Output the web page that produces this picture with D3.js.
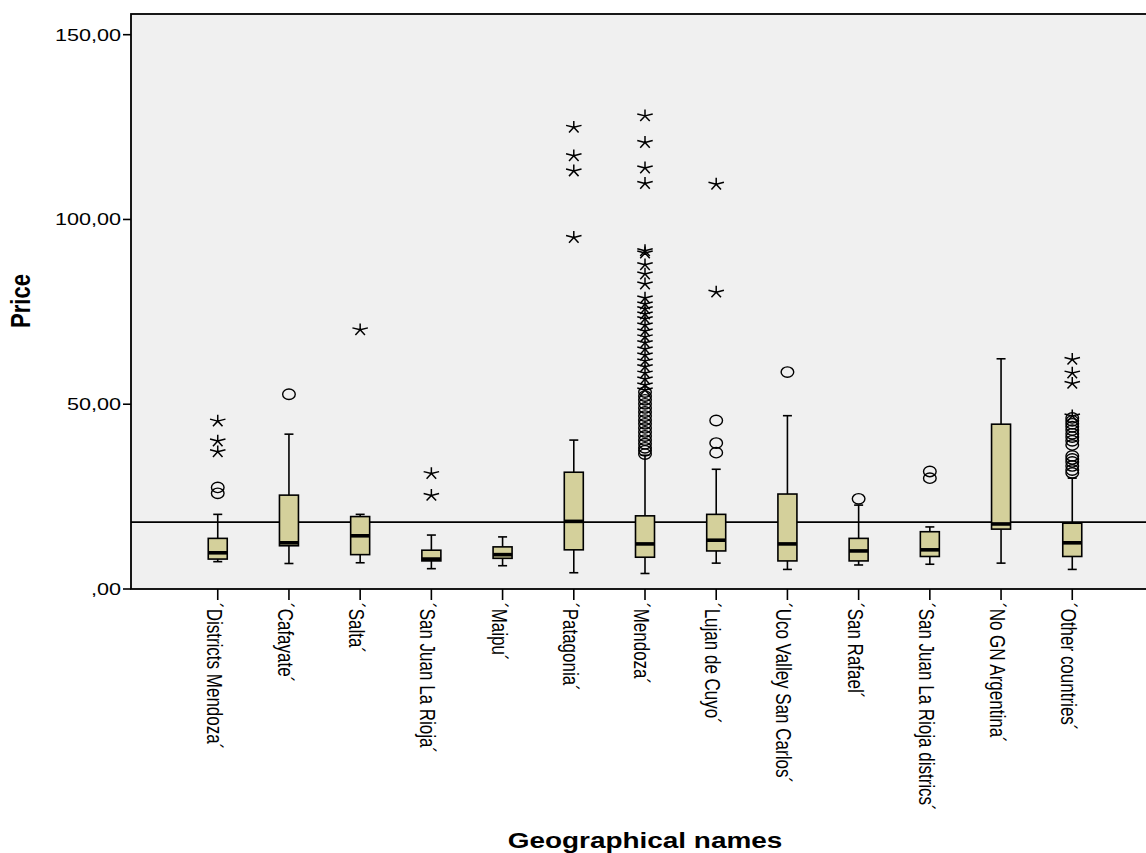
<!DOCTYPE html>
<html>
<head>
<meta charset="utf-8">
<script src="https://cdn.jsdelivr.net/npm/d3@7"></script>
<style>
  html, body { margin: 0; padding: 0; background: #ffffff; }
  svg { display: block; }
  text { font-family: "Liberation Sans", Arial, sans-serif; fill: #000; }
</style>
</head>
<body>
<svg id="chart" width="1146" height="853"></svg>
<script>
// Price by geographical name (box plots)
const categories = [
  "´Districts Mendoza´", "´Cafayate´", "´Salta´", "´San Juan La Rioja´", "´Maipu´",
  "´Patagonia´", "´Mendoza´", "´Lujan de Cuyo´", "´Uco Valley San Carlos´", "´San Rafael´",
  "´San Juan La Rioja districs´", "´No GN Argentina´", "´Other countries´"
];
const whiskerLow  = [7.4, 6.9, 7.1, 5.5, 6.3, 4.4, 4.2, 7.0, 5.3, 6.5, 6.7, 7.0, 5.3];
const q1          = [8.1, 11.7, 9.3, 7.6, 8.3, 10.6, 8.6, 10.3, 7.6, 7.6, 8.8, 16.2, 8.8];
const medians     = [9.8, 12.5, 14.4, 8.1, 9.3, 18.3, 12.2, 13.2, 12.2, 10.3, 10.6, 17.6, 12.5];
const q3          = [13.7, 25.4, 19.6, 10.5, 11.4, 31.6, 19.8, 20.2, 25.7, 13.7, 15.5, 44.6, 17.8];
const whiskerHigh = [20.2, 41.9, 20.2, 14.6, 14.1, 40.3, 36.2, 32.4, 46.9, 22.7, 16.8, 62.3, 30.0];
// mild outliers (circles)
const outliers = [
  [25.9, 27.5],
  [52.7],
  [],
  [],
  [],
  [],
  [36.5, 37.4, 38.2, 39.3, 40.3, 41.4, 42.5, 43.6, 44.7, 45.7, 46.8, 47.9, 49.0, 50.1, 51.2, 52.2, 53.3],
  [36.9, 39.5, 45.6],
  [58.7],
  [24.4],
  [30.0, 31.8],
  [],
  [31.4, 32.2, 33.3, 34.4, 35.2, 36.0, 39.0, 40.1, 41.1, 42.0, 43.0, 43.9, 44.7, 45.5, 46.3]
];
// extreme values (stars)
const extremes = [
  [37.4, 40.3, 45.7],
  [],
  [70.4],
  [25.6, 31.5],
  [],
  [95.4, 113.4, 117.5, 125.2],
  [54.1, 55.5, 57.1, 58.7, 60.4, 62.0, 63.6, 65.2, 66.9, 68.5, 70.1, 71.7, 73.4, 74.7, 76.1,
   77.4, 79.0, 82.8, 85.5, 88.0, 91.2, 91.8, 110.0, 114.2, 121.1, 128.3],
  [80.6, 109.8],
  [],
  [],
  [],
  [],
  [47.1, 55.9, 58.7, 62.4]
];
const referenceValue = 18.1;
const yTicks = [0, 50, 100, 150];
const yTitle = "Price";
const xTitle = "Geographical names";

const svg = d3.select("#chart");
const plotL = 131, plotR = 1157, plotT = 14, plotB = 589;
const sx = 1.27; // horizontal stretch applied to text and point glyphs

const x = d3.scalePoint().domain(categories).range([plotL + 2, plotR]).padding(1.19);
const y = d3.scaleLinear().domain([0, 155.6]).range([plotB, plotT]);

const fmt = v => {
  const s = v.toFixed(2).replace(".", ",");
  return s.startsWith("0,") ? s.slice(1) : s;
};

// plot background
svg.append("rect")
  .attr("x", plotL).attr("y", plotT)
  .attr("width", plotR - plotL).attr("height", plotB - plotT)
  .attr("fill", "#f0f0f0");

// reference line
svg.append("line")
  .attr("x1", plotL).attr("x2", plotR)
  .attr("y1", y(referenceValue)).attr("y2", y(referenceValue))
  .attr("stroke", "#000").attr("stroke-width", 1.6);

const boxHalf = 9.5, capHalf = 4.5;
const g = svg.selectAll("g.box").data(categories).join("g").attr("class", "box");

// whiskers
g.append("line")
  .attr("x1", d => x(d)).attr("x2", d => x(d))
  .attr("y1", (d, i) => y(whiskerLow[i])).attr("y2", (d, i) => y(q1[i]))
  .attr("stroke", "#000").attr("stroke-width", 1.6);
g.append("line")
  .attr("x1", d => x(d)).attr("x2", d => x(d))
  .attr("y1", (d, i) => y(q3[i])).attr("y2", (d, i) => y(whiskerHigh[i]))
  .attr("stroke", "#000").attr("stroke-width", 1.6);
// whisker caps
[whiskerLow, whiskerHigh].forEach(arr => {
  g.append("line")
    .attr("x1", d => x(d) - capHalf).attr("x2", d => x(d) + capHalf)
    .attr("y1", (d, i) => y(arr[i])).attr("y2", (d, i) => y(arr[i]))
    .attr("stroke", "#000").attr("stroke-width", 1.6);
});
// boxes
g.append("rect")
  .attr("x", d => x(d) - boxHalf)
  .attr("y", (d, i) => y(q3[i]))
  .attr("width", boxHalf * 2)
  .attr("height", (d, i) => y(q1[i]) - y(q3[i]))
  .attr("fill", "#d4d09b")
  .attr("stroke", "#000").attr("stroke-width", 1.6);
// medians
g.append("line")
  .attr("x1", d => x(d) - boxHalf).attr("x2", d => x(d) + boxHalf)
  .attr("y1", (d, i) => y(medians[i])).attr("y2", (d, i) => y(medians[i]))
  .attr("stroke", "#000").attr("stroke-width", 3.6);

// outlier circles
const outPts = categories.flatMap((c, i) => outliers[i].map(v => ({ c, v })));
svg.selectAll("ellipse.out").data(outPts).join("ellipse")
  .attr("class", "out")
  .attr("cx", d => x(d.c)).attr("cy", d => y(d.v))
  .attr("rx", 6.3).attr("ry", 5.2)
  .attr("fill", "none").attr("stroke", "#000").attr("stroke-width", 1.4);

// extreme stars (five-spoke asterisk)
const r = 6.4;
let starPath = "";
for (let k = 0; k < 5; k++) {
  const a = (-90 + k * 72) * Math.PI / 180;
  starPath += `M0,0L${(Math.cos(a) * r * sx).toFixed(2)},${(Math.sin(a) * r).toFixed(2)}`;
}
const extPts = categories.flatMap((c, i) => extremes[i].map(v => ({ c, v })));
svg.selectAll("path.ext").data(extPts).join("path")
  .attr("class", "ext")
  .attr("transform", d => `translate(${x(d.c)},${y(d.v) + 1})`)
  .attr("d", starPath)
  .attr("fill", "none").attr("stroke", "#000").attr("stroke-width", 1.5);

// plot frame
svg.append("rect")
  .attr("x", plotL).attr("y", plotT)
  .attr("width", plotR - plotL).attr("height", plotB - plotT)
  .attr("fill", "none").attr("stroke", "#000").attr("stroke-width", 1.8);

// y axis ticks and labels
const yt = svg.selectAll("g.ytick").data(yTicks).join("g").attr("class", "ytick");
yt.append("line")
  .attr("x1", plotL - 8).attr("x2", plotL)
  .attr("y1", d => y(d)).attr("y2", d => y(d))
  .attr("stroke", "#000").attr("stroke-width", 1.6);
yt.append("g")
  .attr("transform", d => `translate(${plotL - 10},${y(d)}) scale(${sx},1)`)
  .append("text")
  .attr("text-anchor", "end").attr("dy", "0.35em")
  .attr("font-size", 17)
  .text(d => fmt(d));

// x axis ticks and rotated labels
const xt = svg.selectAll("g.xtick").data(categories).join("g").attr("class", "xtick");
xt.append("line")
  .attr("x1", d => x(d)).attr("x2", d => x(d))
  .attr("y1", plotB).attr("y2", plotB + 11)
  .attr("stroke", "#000").attr("stroke-width", 1.6);
xt.append("g")
  .attr("transform", d => `translate(${x(d)},603) scale(${sx},1) rotate(90)`)
  .append("text")
  .attr("x", 0).attr("y", 8.6)
  .attr("font-size", 17)
  .text(d => d);

// axis titles
svg.append("g")
  .attr("transform", `translate(30,301) scale(${sx},1) rotate(-90)`)
  .append("text")
  .attr("text-anchor", "middle")
  .attr("font-size", 22).attr("font-weight", "bold")
  .text(yTitle);
svg.append("g")
  .attr("transform", `translate(645,848) scale(${sx},1)`)
  .append("text")
  .attr("text-anchor", "middle")
  .attr("font-size", 22).attr("font-weight", "bold")
  .text(xTitle);
</script>
</body>
</html>
